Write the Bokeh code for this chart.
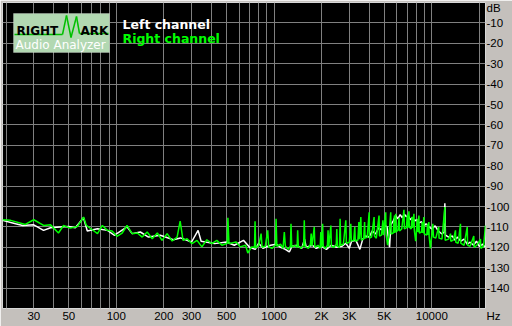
from bokeh.plotting import figure
from bokeh.models import FixedTicker, Label, BoxAnnotation, Arrow
from bokeh.embed import file_html
from bokeh.resources import INLINE

# ---- data -------------------------------------------------------------
left_hz = [19, 23, 25.5, 30, 34.6, 38.3, 44, 50, 55, 62, 65.5, 76, 88, 97, 117, 126, 142, 160,
           190, 230, 255, 300, 330, 345, 420, 500, 560, 640, 700, 760, 800, 850, 950, 1030, 1100,
           1180, 1250, 1300, 1400, 1500, 1560, 1600, 1750, 1850, 2000, 2150, 2300, 2500, 2700,
           2850, 3000, 3100, 3300, 3500, 3650, 3800, 4000, 4200, 4400, 4600, 4800, 5000, 5200,
           5400, 5500, 5700, 5900, 6100, 6300, 6500, 6700, 6900, 7100, 7300, 7500, 7800, 8000,
           8300, 8600, 8900, 9200, 9600, 10000, 10500, 11000, 11600, 12000, 12100, 12200, 12800,
           13500, 14000, 14500, 15300, 16000, 16800, 17500, 18400, 19200, 20000, 21000, 21880]
left_db = [-106.8, -108.5, -109.3, -109.0, -111.7, -110.4, -110.0, -109.8, -110.4, -105.5, -112.0,
           -110.9, -111.7, -114.1, -110.0, -113.3, -112.5, -115.0, -114.1, -116.3, -115.4, -117.4,
           -111.7, -117.0, -118.2, -117.4, -119.0, -116.6, -120.0, -121.0, -118.0, -120.5, -119.0,
           -118.5, -120.0, -121.0, -122.3, -119.5, -119.0, -120.5, -116.0, -120.0, -119.0, -120.5,
           -119.5, -121.0, -119.0, -120.0, -119.5, -118.0, -120.5, -117.0, -116.5, -121.0, -116.0,
           -114.5, -115.0, -112.0, -113.5, -110.5, -111.5, -109.0, -110.0, -120.0, -109.0, -107.0,
           -104.5, -106.0, -104.0, -105.5, -103.8, -105.0, -104.5, -106.5, -105.5, -107.0, -106.5,
           -108.0, -107.5, -109.5, -108.5, -110.0, -111.0, -109.5, -112.0, -113.5, -112.5, -98.4,
           -114.0, -115.0, -114.5, -116.5, -115.0, -117.0, -116.0, -118.5, -117.5, -119.0, -117.0,
           -119.5, -118.5, -120.0]

right_hz = [19, 21.4, 26.5, 30, 34.6, 38.3, 43, 46.3, 51, 56.6, 62, 64.6, 70.5, 76, 81.6, 87.7, 94,
            101, 109, 117, 126, 136, 146, 157, 169, 182, 195, 210, 226, 243, 254, 265, 281, 302,
            325, 349, 375, 404, 434, 467, 505, 510, 518, 575, 610, 660, 682, 720, 752, 758, 765,
            800, 828, 840, 880, 912, 925, 970, 1020, 1030, 1042, 1100, 1140, 1162, 1180, 1230,
            1270, 1281, 1295, 1350, 1400, 1412, 1425, 1480, 1540, 1555, 1570, 1650, 1700, 1720,
            1740, 1799, 1815, 1900, 1960, 1980, 2000, 2032, 2050, 2120, 2180, 2200, 2220, 2292,
            2310, 2400, 2480, 2500, 2520, 2600, 2623, 2645, 2750, 2851, 2875, 3000, 3067, 3090,
            3200, 3250, 3275, 3400, 3450, 3475, 3550, 3580, 3700, 3750, 3780, 3900, 4007, 4030,
            4150, 4308, 4330, 4450, 4630, 4660, 4800, 4900, 4930, 5105, 5130, 5250, 5350, 5492,
            5520, 5700, 5800, 5830, 5906, 5940, 6100, 6200, 6240, 6450, 6660, 6700, 6900, 7000,
            7030, 7164, 7200, 7400, 7500, 7540, 7703, 7750, 7900, 8000, 8100, 8140, 8284, 8330,
            8600, 8700, 8750, 8907, 8950, 9300, 9400, 9440, 9578, 9620, 9800, 10000, 10150, 10250,
            10600, 11060, 11120, 11600, 12100, 12150, 12800, 13140, 13200, 13700, 14130, 14200,
            14700, 15200, 15270, 16000, 16780, 16860, 17500, 18460, 18540, 19300, 20350, 20450,
            21300, 21880]
right_db = [-106.5, -106.8, -108.8, -106.5, -109.3, -109.0, -113.0, -109.3, -110.6, -109.8, -105.2,
            -109.3, -111.4, -113.3, -109.3, -111.7, -112.0, -114.6, -113.0, -109.3, -113.3, -113.0,
            -115.0, -112.5, -115.8, -113.0, -116.6, -113.3, -116.9, -115.0, -107.2, -116.6, -115.8,
            -118.2, -116.6, -119.8, -116.3, -118.2, -116.6, -119.0, -118.0, -105.5, -118.2, -117.4,
            -119.8, -119.0, -122.8, -119.8, -120.0, -107.2, -120.5, -119.0, -113.3, -120.0, -119.5,
            -111.7, -119.8, -120.5, -119.0, -106.0, -119.5, -118.5, -120.5, -112.5, -119.5, -121.0,
            -119.5, -108.5, -120.0, -119.0, -120.0, -111.7, -119.5, -120.5, -119.0, -106.8, -119.5,
            -120.5, -118.5, -113.3, -119.5, -110.0, -120.0, -119.0, -120.5, -112.5, -120.0, -108.5,
            -119.5, -120.5, -119.0, -111.7, -120.0, -109.3, -119.5, -120.0, -118.5, -111.0, -119.5,
            -120.0, -106.0, -119.0, -118.5, -106.8, -118.0, -117.5, -108.5, -117.0, -116.5, -110.0,
            -117.0, -116.5, -107.6, -116.0, -105.2, -116.5, -116.0, -107.6, -115.5, -115.0, -102.8,
            -115.5, -115.0, -105.2, -114.5, -115.5, -104.4, -114.5, -114.0, -106.8, -114.0, -102.8,
            -113.5, -119.0, -114.0, -102.8, -113.5, -113.0, -104.4, -113.0, -103.6, -112.5, -111.5,
            -105.5, -112.0, -111.0, -101.6, -111.0, -110.5, -104.0, -110.5, -102.3, -110.0, -111.0,
            -105.0, -110.5, -103.6, -111.5, -117.0, -112.0, -106.0, -112.5, -104.4, -113.0, -112.5,
            -107.6, -113.0, -105.2, -113.5, -114.0, -108.5, -114.0, -107.6, -114.5, -120.5, -114.0,
            -108.5, -115.0, -115.5, -110.0, -115.5, -116.0, -100.3, -116.5, -116.0, -113.3, -117.0,
            -116.5, -111.7, -117.5, -118.0, -108.5, -118.0, -119.0, -110.0, -119.0, -119.5, -114.5,
            -120.0, -119.0, -116.0, -120.5, -119.5, -109.3]

grid_hz = [20, 30, 40, 50, 60, 70, 80, 90, 100, 200, 300, 400, 500, 600, 700, 800, 900,
           1000, 2000, 3000, 4000, 5000, 6000, 7000, 8000, 9000, 10000, 20000]
label_hz = [30, 50, 100, 200, 300, 500, 1000, 2000, 3000, 5000, 10000]
label_hz_text = ["30", "50", "100", "200", "300", "500", "1000", "2K", "3K", "5K", "10000"]
db_ticks = [-10, -20, -30, -40, -50, -60, -70, -80, -90, -100, -110, -120, -130, -140]
x_unit = "Hz"
y_unit = "dB"

X_START, X_END = 19, 21900
NB = "\u00a0"

# ---- figure -----------------------------------------------------------
BG = "#c4c0bc"
p = figure(width=512, height=326, x_axis_type="log", x_range=(X_START, X_END), y_range=(-150, 0),
           x_axis_location="below", y_axis_location="right",
           output_backend="svg", toolbar_location=None,
           min_border_left=2, min_border_right=27, min_border_top=2, min_border_bottom=18)
p.background_fill_color = "black"
p.border_fill_color = BG
p.outline_line_color = "#d8d8d8"
p.outline_line_width = 1

p.xgrid.ticker = FixedTicker(ticks=grid_hz)
p.ygrid.ticker = FixedTicker(ticks=db_ticks)
for g in (p.xgrid, p.ygrid):
    g.grid_line_color = "#808080"
    g.grid_line_width = 1

# unit names sit at the ends of the axes
x_unit_pos = X_END - 10
y_unit_pos = -2.5

xa = p.xaxis[0]
xa.ticker = FixedTicker(ticks=label_hz + [x_unit_pos])
xa_over = {v: t for v, t in zip(label_hz, label_hz_text)}
xa_over[x_unit_pos] = NB * 5 + x_unit
xa.major_label_overrides = xa_over
ya = p.yaxis[0]
ya.ticker = FixedTicker(ticks=db_ticks + [y_unit_pos])
ya_over = {v: str(v) for v in db_ticks}
ya_over[y_unit_pos] = y_unit
ya.major_label_overrides = ya_over
for ax in (xa, ya):
    ax.axis_line_color = None
    ax.major_tick_line_color = None
    ax.minor_tick_line_color = None
    ax.major_tick_out = 0
    ax.major_tick_in = 0
    ax.minor_tick_out = 0
    ax.minor_tick_in = 0
    ax.major_label_standoff = 1
    ax.major_label_text_font = "Liberation Sans"
    ax.major_label_text_font_size = "11.5px"
    ax.major_label_text_color = "black"

p.line(left_hz, left_db, line_color="white", line_width=1.5)
p.line(right_hz, right_db, line_color="#00ff00", line_width=1.5)

# ---- annotations (screen units relative to the frame: x from left, y from bottom) ----
FB = 308  # frame bottom in canvas px
FL = 2

def sx(cx):
    return cx - FL

def sy(cy):
    return FB - cy

# logo
p.add_layout(BoxAnnotation(left=sx(13), right=sx(109), top=sy(13), bottom=sy(52),
                           left_units="screen", right_units="screen", top_units="screen",
                           bottom_units="screen", fill_color="#b2d8b2", fill_alpha=1,
                           line_color="#e4e4e4", line_width=1))
zig = [(14, 34), (62, 34), (66, 15), (70.5, 37), (76, 16), (79, 33), (108, 33)]
for (x0, y0), (x1, y1) in zip(zig[:-1], zig[1:]):
    p.add_layout(Arrow(end=None, x_start=sx(x0), y_start=sy(y0), x_end=sx(x1), y_end=sy(y1),
                       start_units="screen", end_units="screen", line_color="#00c000",
                       line_width=1.5))
p.add_layout(Label(x=sx(16), y=sy(30.5), x_units="screen", y_units="screen", text="RIGHT",
                   text_font="DejaVu Sans", text_font_style="bold", text_font_size="12px",
                   text_color="black", text_baseline="alphabetic"))
p.add_layout(Label(x=sx(80), y=sy(30), x_units="screen", y_units="screen", text="ARK",
                   text_font="DejaVu Sans", text_font_style="bold", text_font_size="12px",
                   text_color="black", text_baseline="alphabetic"))
p.add_layout(Label(x=sx(15), y=sy(44.5), x_units="screen", y_units="screen", text="Audio Analyzer",
                   text_font="DejaVu Sans", text_font_size="12px",
                   text_color="white", text_baseline="alphabetic"))

# legend texts
p.add_layout(Label(x=sx(122), y=sy(24), x_units="screen", y_units="screen", text="Left channel",
                   text_font="DejaVu Sans", text_font_style="bold", text_font_size="12.5px",
                   text_color="white", text_baseline="alphabetic"))
p.add_layout(Label(x=sx(122), y=sy(37.5), x_units="screen", y_units="screen", text="Right channel",
                   text_font="DejaVu Sans", text_font_style="bold", text_font_size="12.5px",
                   text_color="#00ff00", text_baseline="alphabetic"))

open("out.html", "w").write(file_html(p, INLINE))
